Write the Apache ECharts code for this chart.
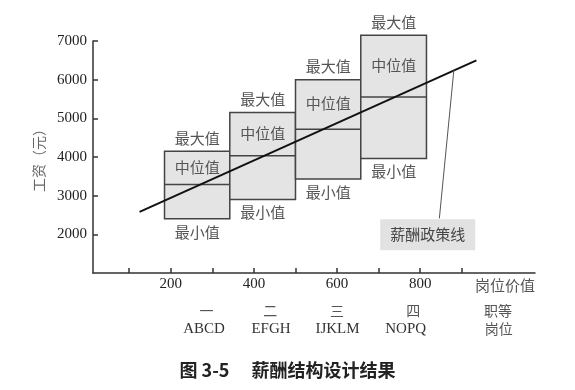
<!DOCTYPE html>
<html>
<head>
<meta charset="utf-8">
<script src="https://cdn.jsdelivr.net/npm/echarts@6/dist/echarts.min.js"></script>
<style>html,body{margin:0;padding:0;background:#fff;}#c{width:575px;height:390px;}</style>
</head>
<body>
<div id="c"></div>
<script>
// ---- data ----
const boxStart  = [185, 342, 500, 657];
const boxEnd    = [342, 500, 657, 815];
const boxMin    = [2400, 2900, 3430, 3960];
const boxMedian = [3290, 4030, 4720, 5550];
const boxMax    = [4150, 5150, 6000, 7150];
const boxLabels = ['最大值', '中位值', '最小值'];

const policyLine   = [[125, 2580], [935, 6500]];
const policyLeader = [[881, 6260], [846, 2413]];
const policyLabelPos = [818, 1990];
const policyLabel  = '薪酬政策线';

const xTickValues  = [100, 200, 300, 400, 500, 600, 700, 800, 900];
const xLabelValues = [200, 400, 600, 800];
const yTickValues  = [2000, 3000, 4000, 5000, 6000, 7000];

const gradeCn     = ['一', '二', '三', '四', '职等'];
const gradeCnPos  = [286, 439, 600, 783, 987];
const gradeJobs   = ['ABCD', 'EFGH', 'IJKLM', 'NOPQ', '岗位'];
const gradeJobPos = [280, 441, 601, 765, 989];

const titleText = '图 3-5\u3000 薪酬结构设计结果';

// ---- chart ----
const CJK = '"Noto Sans CJK SC", sans-serif';
const SERIF = '"Liberation Serif", "Times New Roman", serif';
const boxData = boxStart.map((s, i) => [s, boxEnd[i], boxMin[i], boxMedian[i], boxMax[i]]);

const chart = echarts.init(document.getElementById('c'), null, {renderer: 'canvas'});
const xRange = {type: 'value', min: 13, max: 1076, splitLine: {show: false}};

chart.setOption({
  animation: false,
  backgroundColor: '#fff',
  title: {
    text: titleText, left: 'center', top: 356,
    textStyle: {fontFamily: CJK, fontSize: 18, fontWeight: 'bold', color: '#222'}
  },
  grid: {left: 93, right: 40, top: 41, bottom: 117},
  xAxis: [
    Object.assign({}, xRange, {
      axisLine: {lineStyle: {color: '#333', width: 1.5}},
      axisTick: {inside: true, length: 5, customValues: xTickValues, lineStyle: {color: '#333', width: 1.5}},
      axisLabel: {customValues: xLabelValues, margin: 4, color: '#222', fontFamily: SERIF, fontSize: 15,
        formatter: v => String(v)},
      name: '岗位价值', nameLocation: 'end', nameGap: 0,
      nameTextStyle: {align: 'right', verticalAlign: 'top', padding: [5, 0, 0, 0], color: '#555', fontFamily: CJK, fontSize: 15}
    }),
    Object.assign({}, xRange, {
      position: 'bottom', axisLine: {show: false}, axisTick: {show: false},
      axisLabel: {customValues: gradeCnPos, margin: 31, color: '#555', fontFamily: CJK, fontSize: 14,
        formatter: v => gradeCn[gradeCnPos.indexOf(v)]}
    }),
    Object.assign({}, xRange, {
      position: 'bottom', axisLine: {show: false}, axisTick: {show: false},
      axisLabel: {customValues: gradeJobPos, margin: 49,
        formatter: v => { const i = gradeJobPos.indexOf(v); return i === gradeJobs.length - 1 ? '{cn|' + gradeJobs[i] + '}' : '{en|' + gradeJobs[i] + '}'; },
        rich: {
          en: {color: '#333', fontFamily: SERIF, fontSize: 15},
          cn: {color: '#555', fontFamily: CJK, fontSize: 14}
        }}
    })
  ],
  yAxis: {
    type: 'value', min: 1000, max: 7000, interval: 1000,
    splitLine: {show: false},
    axisLine: {show: true, lineStyle: {color: '#333', width: 1.5}},
    axisTick: {show: true, inside: true, length: 5, customValues: yTickValues, lineStyle: {color: '#333', width: 1.5}},
    axisLabel: {customValues: yTickValues, margin: 6, color: '#222', fontFamily: SERIF, fontSize: 15,
      formatter: v => String(v)},
    name: '工资（元）', nameLocation: 'middle', nameGap: 46,
    nameTextStyle: {color: '#666', fontFamily: CJK, fontSize: 14}
  },
  series: [
    {
      type: 'custom', xAxisIndex: 0, yAxisIndex: 0, data: boxData, silent: true,
      renderItem: (params, api) => {
        const x0 = api.value(0), x1 = api.value(1), lo = api.value(2), med = api.value(3), hi = api.value(4);
        const tl = api.coord([x0, hi]);
        const br = api.coord([x1, lo]);
        const m = api.coord([x0, med]);
        const cx = (tl[0] + br[0]) / 2;
        const font = '15px ' + CJK;
        return {
          type: 'group',
          children: [
            {type: 'rect', shape: {x: tl[0], y: tl[1], width: br[0] - tl[0], height: br[1] - tl[1]},
              style: {fill: '#e4e4e4', stroke: '#444', lineWidth: 1.5}},
            {type: 'line', shape: {x1: tl[0], y1: m[1], x2: br[0], y2: m[1]},
              style: {stroke: '#444', lineWidth: 1.5}},
            {type: 'text', style: {text: boxLabels[0], x: cx, y: tl[1] - 13, align: 'center', verticalAlign: 'middle', fill: '#555', font: font}},
            {type: 'text', style: {text: boxLabels[1], x: cx, y: (tl[1] + m[1]) / 2 - 1, align: 'center', verticalAlign: 'middle', fill: '#555', font: font}},
            {type: 'text', style: {text: boxLabels[2], x: cx, y: br[1] + 13, align: 'center', verticalAlign: 'middle', fill: '#555', font: font}}
          ]
        };
      }
    },
    {
      type: 'line', xAxisIndex: 0, yAxisIndex: 0, data: policyLine, symbol: 'none', silent: true,
      lineStyle: {color: '#111', width: 2}
    },
    {
      type: 'line', xAxisIndex: 0, yAxisIndex: 0, data: policyLeader, symbol: 'none', silent: true,
      lineStyle: {color: '#555', width: 1}
    },
    {
      type: 'custom', xAxisIndex: 0, yAxisIndex: 0, data: [policyLabelPos], silent: true,
      renderItem: (params, api) => {
        const p = api.coord([api.value(0), api.value(1)]);
        return {
          type: 'text',
          style: {text: policyLabel, x: p[0], y: p[1], align: 'center', verticalAlign: 'middle',
            fill: '#444', font: '15px ' + CJK, backgroundColor: '#e2e2e2', padding: [8, 10]}
        };
      }
    }
  ]
});
</script>
</body>
</html>
